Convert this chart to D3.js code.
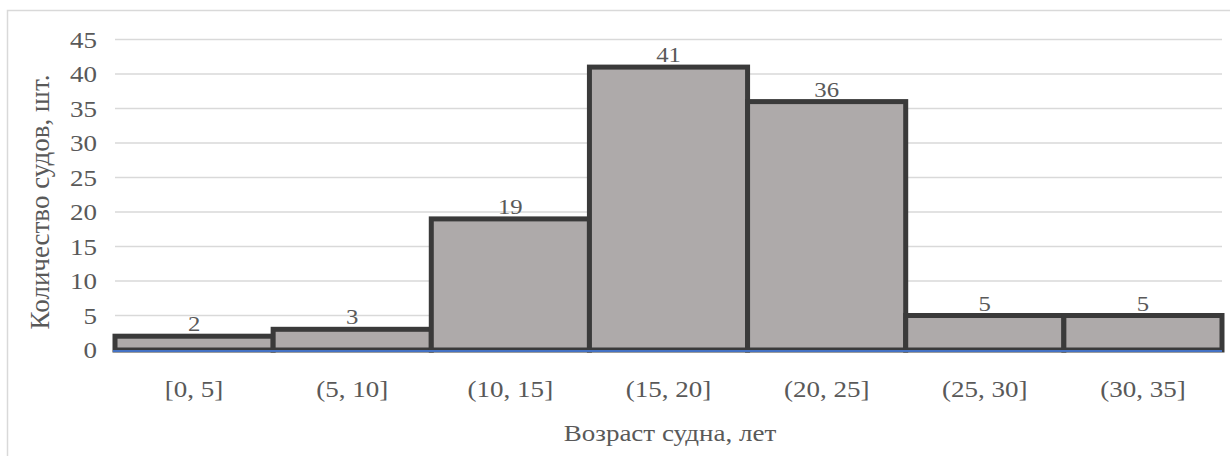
<!DOCTYPE html>
<html>
<head>
<meta charset="utf-8">
<script src="https://cdn.jsdelivr.net/npm/d3@7"></script>
<style>
  html, body { margin: 0; padding: 0; background: #fff; }
  svg { display: block; }
</style>
</head>
<body>
<svg id="chart" width="1230" height="456"></svg>
<script>
// Age bins of vessels and number of vessels in each bin
const categories = ["[0, 5]", "(5, 10]", "(10, 15]", "(15, 20]", "(20, 25]", "(25, 30]", "(30, 35]"];
const counts = [2, 3, 19, 41, 36, 5, 5];
const yTicks = [0, 5, 10, 15, 20, 25, 30, 35, 40, 45];
const xTitle = "Возраст судна, лет";
const yTitle = "Количество судов, шт.";

const W = 1230, H = 456;
const margin = { left: 115, right: 8, top: 39.5, bottom: 106 };
const textStretch = 1.15; // glyphs are drawn a little wider than tall
const INK = "#595959";

const svg = d3.select("#chart");

// chart frame
svg.append("rect")
  .attr("x", 7.5).attr("y", 10.5)
  .attr("width", W + 10).attr("height", H + 10)
  .attr("fill", "#fff").attr("stroke", "#d9d9d9").attr("stroke-width", 1.5);

const x = d3.scaleBand().domain(categories)
  .range([margin.left, W - margin.right]).padding(0);
const y = d3.scaleLinear().domain([0, 45])
  .range([H - margin.bottom, margin.top]);

function label(sel, size) {
  return sel.style("font-family", "'Liberation Serif'")
    .style("font-size", size + "px").attr("fill", INK);
}
function stretched(sel, tx, ty) {
  sel.attr("transform", `translate(${tx},${ty}) scale(${textStretch},1)`);
}

// horizontal gridlines
svg.append("g").selectAll("line").data(yTicks.filter(d => d > 0)).join("line")
  .attr("x1", margin.left).attr("x2", W - margin.right)
  .attr("y1", d => y(d)).attr("y2", d => y(d))
  .attr("stroke", "#d9d9d9").attr("stroke-width", 1.5);

// y tick labels
svg.append("g").selectAll("text").data(yTicks).join("text")
  .call(label, 23.5)
  .attr("text-anchor", "end")
  .attr("dy", "0.35em")
  .each(function (d) { stretched(d3.select(this), 97, y(d)); })
  .text(d => d);

// bars
svg.append("g").selectAll("rect").data(counts).join("rect")
  .attr("x", (d, i) => x(categories[i]))
  .attr("width", x.bandwidth())
  .attr("y", d => y(d))
  .attr("height", d => y(0) - y(d))
  .attr("fill", "#aeaaaa")
  .attr("stroke", "#3a3a3a")
  .attr("stroke-width", 5);

// category axis line
svg.append("line")
  .attr("x1", margin.left - 2).attr("x2", W - margin.right)
  .attr("y1", y(0) + 1).attr("y2", y(0) + 1)
  .attr("stroke", "#4472c4").attr("stroke-width", 2);

// value labels above the bars
svg.append("g").selectAll("text").data(counts).join("text")
  .call(label, 21.5)
  .attr("text-anchor", "middle")
  .each(function (d, i) {
    stretched(d3.select(this), x(categories[i]) + x.bandwidth() / 2, y(d) - 5);
  })
  .text(d => d);

// category labels
svg.append("g").selectAll("text").data(categories).join("text")
  .call(label, 23.5)
  .attr("text-anchor", "middle")
  .each(function (d) {
    stretched(d3.select(this), x(d) + x.bandwidth() / 2, 397);
  })
  .text(d => d);

// axis titles
svg.append("text")
  .call(label, 23.5)
  .attr("text-anchor", "middle")
  .call(s => stretched(s, 670, 441))
  .text(xTitle);

svg.append("text")
  .call(label, 27)
  .attr("text-anchor", "middle")
  .attr("transform", `translate(49,202) rotate(-90)`)
  .text(yTitle);
</script>
</body>
</html>
